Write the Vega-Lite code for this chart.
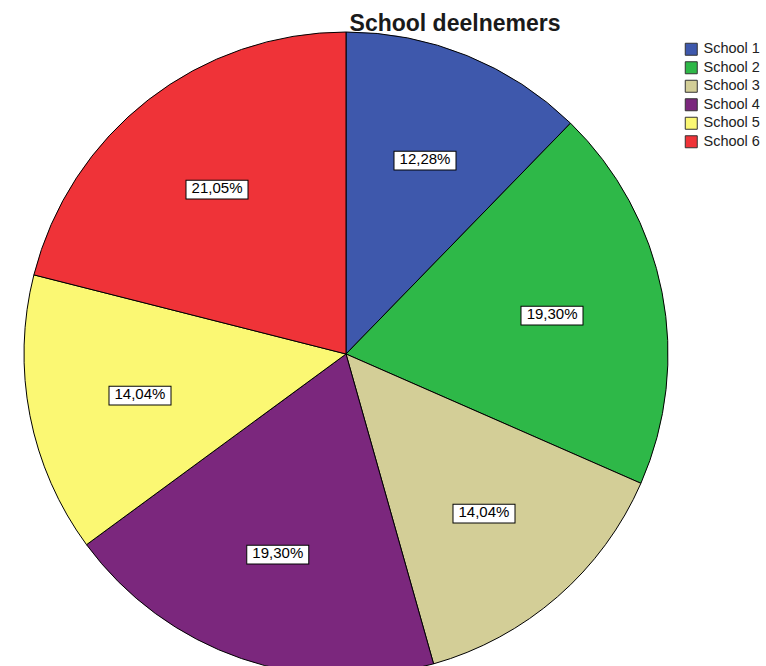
{
  "$schema": "https://vega.github.io/schema/vega-lite/v6.json",
  "width": 692,
  "height": 708,
  "padding": 0,
  "background": "white",
  "title": {"text": "School deelnemers", "font": "Liberation Sans", "fontSize": 23, "fontWeight": "bold", "color": "#1a1a1a", "dx": 109, "dy": 40},
  "data": {"values": [
    {"school": "School 1", "pct": 12.28, "label": "12,28%"},
    {"school": "School 2", "pct": 19.30, "label": "19,30%"},
    {"school": "School 3", "pct": 14.04, "label": "14,04%"},
    {"school": "School 4", "pct": 19.30, "label": "19,30%"},
    {"school": "School 5", "pct": 14.04, "label": "14,04%"},
    {"school": "School 6", "pct": 21.05, "label": "21,05%"}
  ]},
  "encoding": {
    "theta": {"field": "pct", "type": "quantitative", "stack": true},
    "order": {"field": "school", "type": "ordinal"}
  },
  "layer": [
    {
      "mark": {"type": "arc", "outerRadius": 322, "stroke": "black", "strokeWidth": 1},
      "encoding": {
        "color": {
          "field": "school", "type": "nominal",
          "scale": {"domain": ["School 1", "School 2", "School 3", "School 4", "School 5", "School 6"],
                    "range": ["#3E58AC", "#2EB848", "#D3CE97", "#7B277D", "#FBF873", "#EF3338"]},
          "legend": {"orient": "none", "legendX": 684, "legendY": 42, "title": null, "symbolType": "square", "symbolSize": 144, "symbolStrokeColor": "#333333", "symbolStrokeWidth": 1, "symbolOpacity": 1, "labelFont": "Liberation Sans", "labelFontSize": 14.5, "labelColor": "#222222", "rowPadding": 1.5, "labelOffset": 5}
        }
      }
    },
    {
      "mark": {"type": "text", "radius": 210, "text": "▬", "font": "Liberation Sans", "fontSize": 62, "fill": "white", "stroke": "black", "strokeWidth": 1, "baseline": "middle", "align": "center", "dy": -8}
    },
    {
      "mark": {"type": "text", "radius": 210, "font": "Liberation Sans", "fontSize": 15, "fill": "black", "baseline": "middle", "align": "center"},
      "encoding": {"text": {"field": "label"}}
    }
  ],
  "config": {"view": {"stroke": null}}
}
